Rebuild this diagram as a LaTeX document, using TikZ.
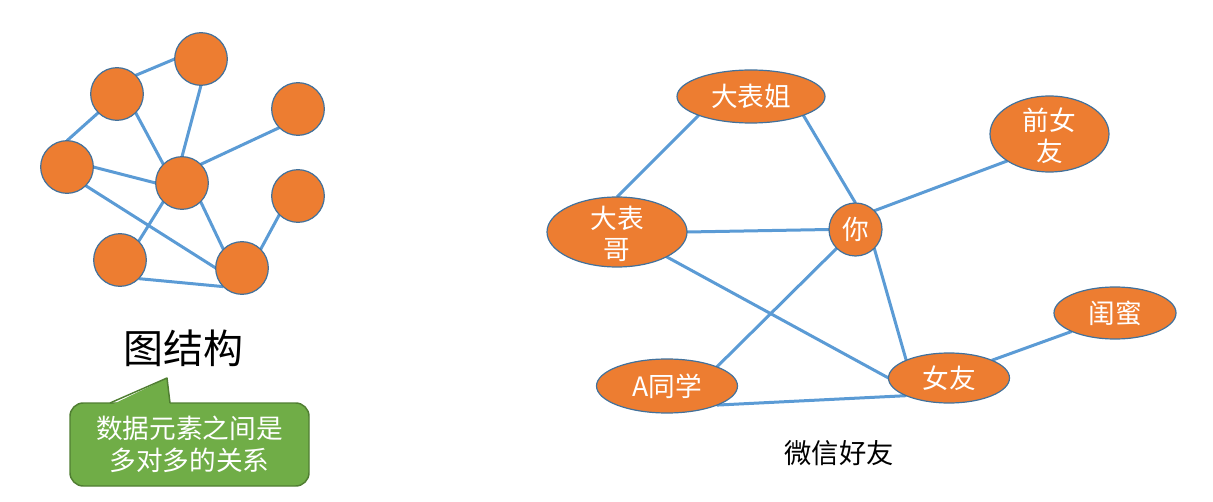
\documentclass[tikz,border=0pt]{standalone}
\usepackage{fontspec}
\setmainfont{Noto Sans CJK SC}
\usetikzlibrary{shapes.geometric,backgrounds}
\definecolor{orng}{HTML}{ED7D31}
\definecolor{obord}{HTML}{41719C}
\definecolor{edgeblue}{HTML}{5B9BD5}
\definecolor{cgreen}{HTML}{70AD47}
\definecolor{cgborder}{HTML}{507E32}
\begin{document}
\begin{tikzpicture}[x=0.75pt,y=-0.75pt,
  vtx/.style={circle,fill=orng,draw=obord,line width=0.9pt,inner sep=0pt,outer sep=0pt,minimum size=39.5pt},
  ell/.style={ellipse,fill=orng,draw=obord,line width=0.9pt,inner sep=0pt,outer sep=0pt},
  lbl/.style={text=white,font=\fontsize{20}{23.25}\selectfont,align=center,inner sep=0pt},
  conn/.style={draw=edgeblue,line width=2.25pt},
  callbox/.style={rectangle,rounded corners=10pt,fill=cgreen,draw=cgborder,line width=1.1pt,
    minimum width=179.25pt,minimum height=62.25pt,text=white,align=center,
    font=\fontsize{20}{24}\selectfont}]
\useasboundingbox (0,0) rectangle (1213,502);

% ---------- left graph ----------
\node[vtx] (A) at (201,59) {};
\node[vtx] (B) at (117,94) {};
\node[vtx] (C) at (298,109) {};
\node[vtx] (D) at (67,167) {};
\node[vtx] (E) at (182,183) {};
\node[vtx] (F) at (298,196) {};
\node[vtx] (G) at (120,260) {};
\node[vtx] (H) at (242,268) {};

\begin{scope}[on background layer]
\draw[conn] (B.north east) -- (A.west);
\draw[conn] (B.south west) -- (D.north);
\draw[conn] (B.south east) -- (E.north west);
\draw[conn] (A.south) -- (E.north);
\draw[conn] (C.south west) -- (E.north east);
\draw[conn] (D.east) -- (E.west);
\draw[conn] (D.south east) -- (H.west);
\draw[conn] (E.south west) -- (G.north east);
\draw[conn] (E.south east) -- (H.north west);
\draw[conn] (F.south west) -- (H.north east);
\draw[conn] (G.south east) -- (H.south west);
\end{scope}

\node[font=\fontsize{30}{36}\selectfont] (title) at (183,348) {图结构};

% callout
\node[callbox] (callout) at (189.5,444.5) {数据元素之间是\\多对多的关系};
\coordinate (tailL) at (110,403);
\coordinate (tailR) at (170,403);
\coordinate (tip) at (167,378);
\fill[cgreen] ([yshift=-2pt]tailL) -- (tip) -- ([yshift=-2pt]tailR) -- cycle;
\draw[cgborder,line width=1.1pt,line join=round] (tailL) -- (tip) -- (tailR);

% ---------- right graph ----------
\node[ell,minimum width=111pt,minimum height=39.75pt,label={[lbl]center:大表姐}] (dbj) at (751,96.5) {};
\node[ell,minimum width=105pt,minimum height=52.5pt,label={[lbl,yshift=-1.5pt]center:{大表\\哥}}] (dbg) at (617,232) {};
\node[circle,fill=orng,draw=obord,line width=0.9pt,inner sep=0pt,outer sep=0pt,minimum size=39.75pt,label={[lbl]center:你}] (ni) at (855.5,229.5) {};
\node[ell,minimum width=89.25pt,minimum height=57pt,label={[lbl,yshift=-1.5pt]center:{前女\\友}}] (qny) at (1049.5,134) {};
\node[ell,minimum width=91.5pt,minimum height=39pt,label={[lbl]center:闺蜜}] (gm) at (1115,313) {};
\node[ell,minimum width=90.75pt,minimum height=37.5pt,label={[lbl]center:女友}] (ny) at (949,378) {};
\node[ell,minimum width=105.75pt,minimum height=40.5pt,label={[lbl]center:A同学}] (atx) at (667,386) {};

\begin{scope}[on background layer]
\draw[conn] (dbj.south west) -- (dbg.north);
\draw[conn] (dbj.south east) -- (ni.north);
\draw[conn] (dbg.east) -- (ni.west);
\draw[conn] (dbg.south east) -- (ny.west);
\draw[conn] (ni.north east) -- (qny.south west);
\draw[conn] (ni.south west) -- (atx.north east);
\draw[conn] (ni.south east) -- (ny.north west);
\draw[conn] (atx.south east) -- (ny.south west);
\draw[conn] (ny.north east) -- (gm.south west);
\end{scope}

\node[font=\fontsize{20.5}{24}\selectfont] (caption) at (839,453) {微信好友};
\end{tikzpicture}
\end{document}
